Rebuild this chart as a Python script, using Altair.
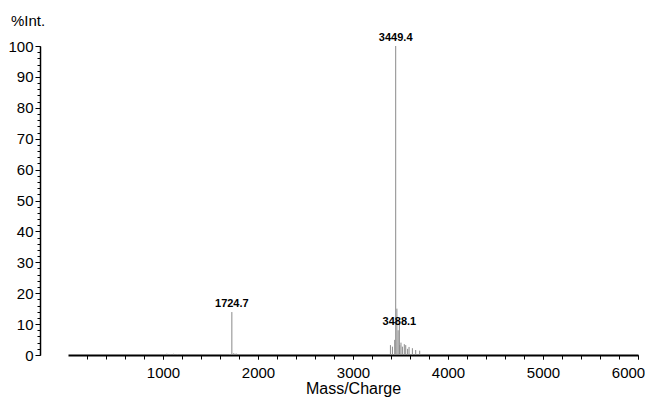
import altair as alt
import pandas as pd

# stick spectrum (m/z, %Int.)
mz = [1010, 1040, 1075, 1110, 1150, 1190, 1230,
      1700, 1724.7, 1745, 1770, 1800,
      3394, 3415, 3439, 3449.4, 3462, 3475, 3488.1, 3492, 3505, 3520,
      3540, 3555, 3575, 3590, 3625, 3660, 3702]
intensity = [0.3, 0.4, 0.3, 0.4, 0.3, 0.3, 0.2,
             0.3, 13.9, 0.6, 0.5, 0.3,
             3.2, 2.7, 4.9, 100, 15.0, 8.0, 10.3, 3.2, 4.0, 2.7,
             3.5, 3.2, 2.0, 2.6, 2.2, 1.6, 1.4]

label_mz = [1724.7, 3449.4, 3488.1]
label_int = [13.9, 100, 8.2]
label_txt = ["1724.7", "3449.4", "3488.1"]

x_major = [1000, 2000, 3000, 4000, 5000, 6000]
x_minor = list(range(200, 6001, 200))
y_major = list(range(0, 101, 10))
y_minor = list(range(0, 101, 2))

df = pd.DataFrame({"mz": mz, "int": intensity})
lab = pd.DataFrame({"mz": label_mz, "int": label_int, "txt": label_txt})

FONT = "Liberation Sans"

x_scale = alt.Scale(domain=[0, 6000], nice=False, zero=False)
y_scale = alt.Scale(domain=[0, 100], nice=False)

x_axis = alt.Axis(
    values=x_major, format="d", orient="bottom",
    title="Mass/Charge", titleFont=FONT, titleFontSize=16, titleFontWeight="normal",
    titleColor="black", titlePadding=0,
    labelFont=FONT, labelFontSize=15, labelColor="black", labelPadding=6,
    labelOffset=alt.condition("datum.value == 6000", alt.value(-10), alt.value(0)),
    tickSize=4, tickColor="black", tickWidth=1,
    domainColor="black", domainWidth=2, grid=False, labelOverlap=False, labelFlush=False,
)
y_axis = alt.Axis(
    values=y_major, format="d", orient="left",
    title=None, offset=28,
    labelFont=FONT, labelFontSize=15, labelColor="black", labelPadding=2,
    tickSize=5, tickColor="black", tickWidth=1,
    domainColor="black", domainWidth=1.5, grid=False, labelOverlap=False, labelFlush=False,
)
x_axis_minor = alt.Axis(
    values=x_minor, labels=False, domain=False, title=None, grid=False,
    tickSize=4, tickColor="black", tickWidth=1, orient="bottom",
)
y_axis_minor = alt.Axis(
    values=y_minor, labels=False, domain=False, title=None, grid=False, offset=28,
    tickSize=3, tickColor="black", tickWidth=1, orient="left",
)

sticks = alt.Chart(df).mark_rule(color="#8a8a8a", strokeWidth=1).encode(
    x=alt.X("mz:Q", scale=x_scale, axis=x_axis),
    y=alt.Y("int:Q", scale=y_scale, axis=y_axis),
    y2=alt.datum(0),
)

minor = alt.Chart(df).mark_point(opacity=0).encode(
    x=alt.X("mz:Q", scale=x_scale, axis=x_axis_minor),
    y=alt.Y("int:Q", scale=y_scale, axis=y_axis_minor),
)

labels = alt.Chart(lab).mark_text(
    font=FONT, fontSize=11, fontWeight="bold", color="black",
    baseline="bottom", dy=-3,
).encode(
    x=alt.X("mz:Q", scale=x_scale, axis=None),
    y=alt.Y("int:Q", scale=y_scale, axis=None),
    text="txt:N",
)

chart = alt.layer(minor, sticks, labels).resolve_scale(
    x="independent", y="independent"
).resolve_axis(
    x="independent", y="independent"
).properties(
    width=570, height=309,
    autosize=alt.AutoSizeParams(type="none"),
    padding={"left": 60, "top": 38, "right": 7, "bottom": 42},
    title=alt.TitleParams("%Int.", anchor="start", dx=3, offset=3,
                          font=FONT, fontSize=15, fontWeight="normal", color="black"),
).configure_view(stroke=None)

chart.save("out.html", embed_options={"renderer": "svg", "actions": False})
